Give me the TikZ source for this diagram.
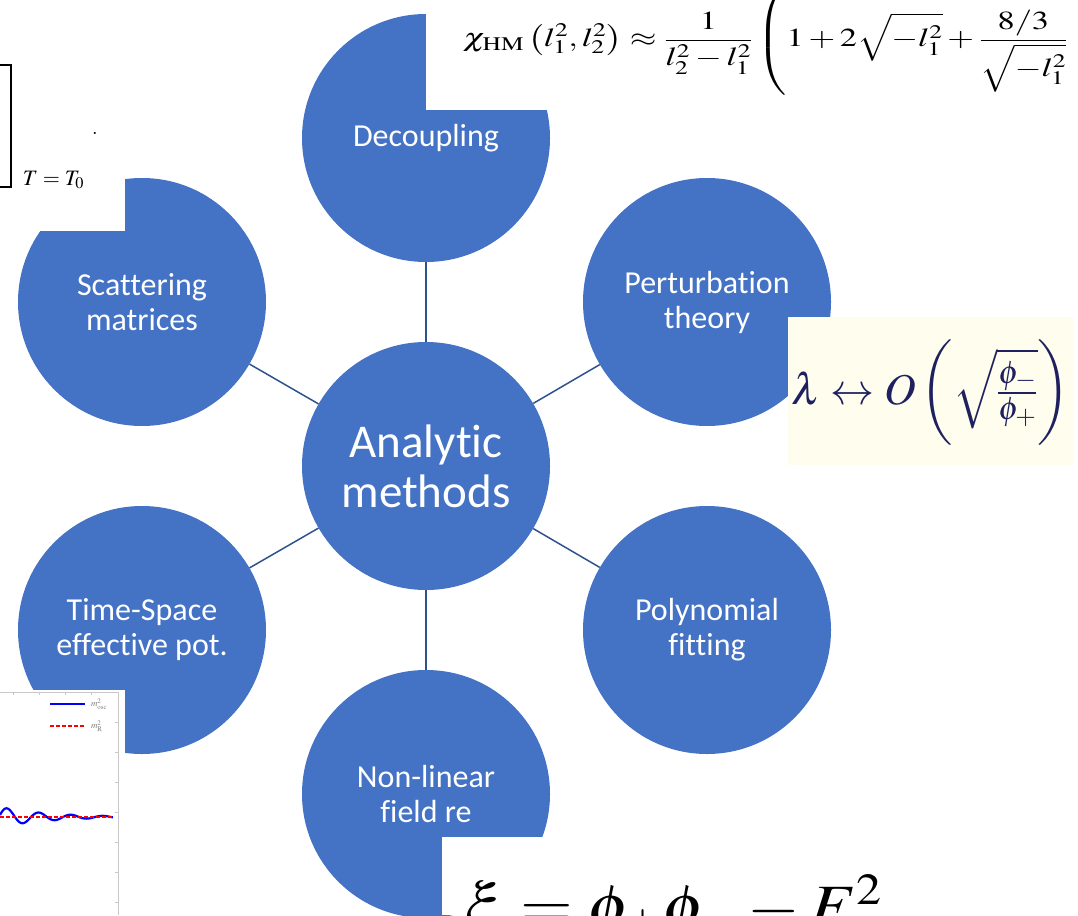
\documentclass[tikz,border=0pt]{standalone}
\usepackage{mathptmx}
\usepackage[no-math]{fontspec}
\setmainfont{Carlito}[Ligatures=NoCommon]
\definecolor{nodeblue}{HTML}{4472C4}
\definecolor{linkblue}{HTML}{2F528F}
\definecolor{cream}{HTML}{FFFDEE}
\definecolor{navy}{HTML}{1E2060}
\definecolor{plotgray}{HTML}{C8C8C8}
\begin{document}
\begin{tikzpicture}[x=1pt,y=-1pt,
  hub/.style={circle, fill=nodeblue, text=white, inner sep=0pt, minimum size=248pt,
    align=center, font=\fontsize{47}{50}\selectfont},
  spoke/.style={circle, fill=nodeblue, text=white, inner sep=0pt, minimum size=248pt,
    align=center, font=\fontsize{32}{35}\selectfont},
  link/.style={draw=linkblue, line width=1.5pt},
  cover/.style={fill=white, draw=none},
  eq/.style={inner sep=0pt, outer sep=0pt}
]
\useasboundingbox (0,0) rectangle (1078,915);
\fill[white] (0,0) rectangle (1078,915);

% hub and spokes
\node[hub]   (hub) at (426,466) {Analytic\\methods};
\node[spoke] (dec) at (426,138) {Decoupling};
\node[spoke] (pert) at (707,302) {Perturbation\\theory};
\node[spoke] (poly) at (707,630) {Polynomial\\fitting};
\node[spoke] (nonl) at (426,794) {Non-linear\\field re};
\node[spoke] (tsep) at (142,630) {Time-Space\\effective pot.};
\node[spoke] (scat) at (142,302) {Scattering\\matrices};

\foreach \n in {dec,pert,poly,nonl,tsep,scat}
  \draw[link] (hub) -- (\n);

% formula panel, top right
\fill[cover] (426,0) rectangle (1078,110);
\begin{scope}
  \clip (426,0) rectangle (1078,110);
  \node[eq, anchor=base west] (chi) at (463,47)
    {\fontsize{26}{30}\selectfont\scalebox{1.32}[1]{%
     $\displaystyle \chi_{\mathrm{HM}}\left(l_1^2,l_2^2\right)\approx\frac{1}{l_2^2-l_1^2}
      \left(1+2\sqrt{-l_1^2}+\frac{8/3}{\sqrt{-l_1^2}}\right.$}};
\end{scope}

% formula panel, top left
\fill[cover] (0,0) rectangle (125,231);
\coordinate (bt) at (11,65);
\coordinate (bb) at (11,187);
\draw[line width=1.6pt] ([xshift=-12pt]bt) -- (bt) -- (bb) -- ([xshift=-12pt]bb);
\node[eq, anchor=base west] (tsub) at (23,185) {\fontsize{22}{26}\selectfont $T=T_0$};
\node[eq] (dot) at (95,133) {\fontsize{20}{24}\selectfont $.$};

% formula panel, right
\fill[cream] (788,317) rectangle (1074,465);
\node[eq, anchor=west, text=navy] (lam) at (791,393)
  {\fontsize{44}{50}\selectfont
   $\displaystyle\lambda\leftrightarrow O\left(\sqrt{\textstyle\frac{\phi_-}{\phi_+}}\right)$};

% formula panel, bottom
\fill[cover] (442,837) rectangle (1078,915);
\begin{scope}
  \clip (442,837) rectangle (1078,915);
  \node[eq, anchor=base west] (xi) at (463,926)
    {\fontsize{60}{66}\selectfont\scalebox{1.13}[1]{$\xi=\phi_+\phi_--F^2$}};
\end{scope}

% plot panel, bottom left
\fill[cover] (0,690) rectangle (125,915);
\draw[plotgray, line width=0.6pt] (0,692) -- (118,692) -- (118,915);
\foreach \t in {13,39,65,91} \draw[plotgray, line width=0.5pt] (\t,692) -- (\t,695);
\foreach \t in {722,752,782,812,842,872,902} \draw[plotgray, line width=0.5pt] (118,\t) -- (115,\t);
\coordinate (lb0) at (50,704);
\coordinate (lb1) at (85,704);
\coordinate (lr0) at (50,726);
\coordinate (lr1) at (85,726);
\draw[blue, line width=2pt] (lb0) -- (lb1);
\draw[red, line width=1.5pt, dash pattern=on 4pt off 2pt] (lr0) -- (lr1);
\node[eq, anchor=west, text=gray] (losc) at (91,704) {\fontsize{9}{10}\selectfont $m^2_{\mathrm{osc}}$};
\node[eq, anchor=west, text=gray] (lr) at (91,726) {\fontsize{9}{10}\selectfont $m^2_{\mathrm{R}}$};
\draw[blue, line width=2.2pt, line join=round]
  plot[domain=0:113, samples=150, smooth] (\x, {817 - 10*exp(-\x/48)*sin((\x-7)*11.25+90)});
\draw[red, line width=1.2pt, dash pattern=on 4pt off 2pt] (0,817) -- (113,817);
\end{tikzpicture}
\end{document}
